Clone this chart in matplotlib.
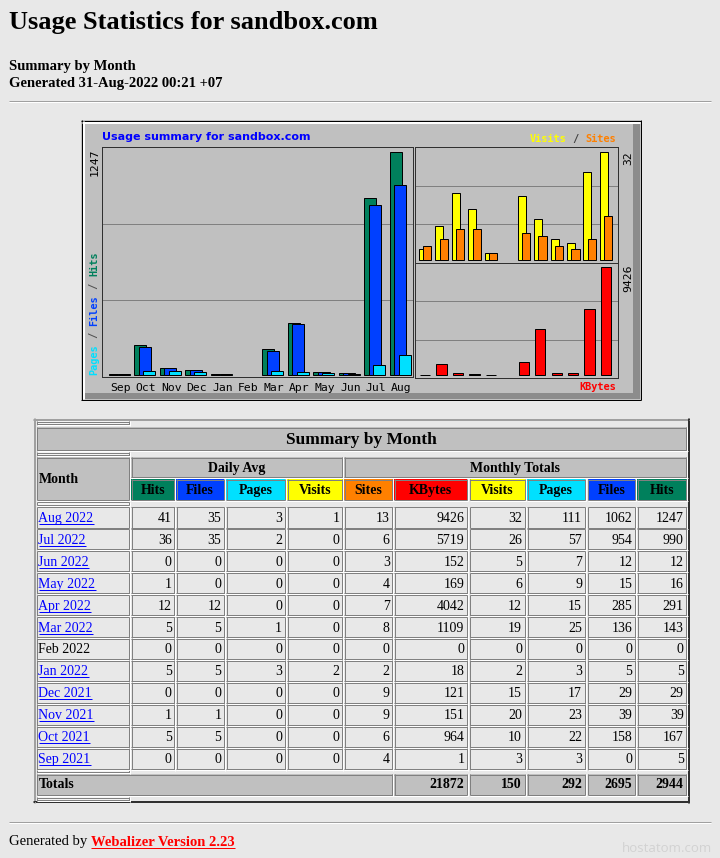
import matplotlib
matplotlib.use('Agg')
import matplotlib.pyplot as plt
from matplotlib.patches import Rectangle
import numpy as np

# ---------------- data ----------------
months = ['Sep', 'Oct', 'Nov', 'Dec', 'Jan', 'Feb', 'Mar', 'Apr', 'May', 'Jun', 'Jul', 'Aug']
month_labels = ['Sep 2021', 'Oct 2021', 'Nov 2021', 'Dec 2021', 'Jan 2022', 'Feb 2022',
                'Mar 2022', 'Apr 2022', 'May 2022', 'Jun 2022', 'Jul 2022', 'Aug 2022']
month_linked = [True, True, True, True, True, False, True, True, True, True, True, True]
hits = [5, 167, 39, 29, 5, 0, 143, 291, 16, 12, 990, 1247]
files = [0, 158, 39, 29, 5, 0, 136, 285, 15, 12, 954, 1062]
pages = [3, 22, 23, 17, 3, 0, 25, 15, 9, 7, 57, 111]
visits = [3, 10, 20, 15, 2, 0, 19, 12, 6, 5, 26, 32]
sites = [4, 6, 9, 9, 2, 0, 8, 7, 4, 3, 6, 13]
kbytes = [1, 964, 151, 121, 18, 0, 1109, 4042, 169, 152, 5719, 9426]
avg_hits = [0, 5, 1, 0, 5, 0, 5, 12, 1, 0, 36, 41]
avg_files = [0, 5, 1, 0, 5, 0, 5, 12, 0, 0, 35, 35]
avg_pages = [0, 0, 0, 0, 3, 0, 1, 0, 0, 0, 2, 3]
avg_visits = [0, 0, 0, 0, 2, 0, 0, 0, 0, 0, 0, 1]

C_HITS = '#00805C'
C_FILES = '#0040FF'
C_PAGES = '#00E0FF'
C_VISITS = '#FFFF00'
C_SITES = '#FF8000'
C_KB = '#FF0000'
BG = '#E8E8E8'
GRAY = '#C0C0C0'

SERIF = 'Liberation Serif'
MONO = 'DejaVu Sans Mono'
SANS = 'DejaVu Sans'

W, H = 720, 858
fig = plt.figure(figsize=(W / 100, H / 100), dpi=100, facecolor=BG)
bg = fig.add_axes([0, 0, 1, 1])
bg.set_xlim(0, W)
bg.set_ylim(H, 0)
bg.axis('off')
PX = 0.72


def hline(x0, x1, y, c, lw=1, z=2):
    bg.plot([x0, x1], [y, y], color=c, lw=lw * PX, solid_capstyle='butt', zorder=z)


def vline(x, y0, y1, c, lw=1, z=2):
    bg.plot([x, x], [y0, y1], color=c, lw=lw * PX, solid_capstyle='butt', zorder=z)


def rect(x0, y0, x1, y1, fc, z=1):
    bg.add_patch(Rectangle((x0, y0), x1 - x0, y1 - y0, fc=fc, ec='none', zorder=z))


def cell(x0, y0, x1, y1, fc, tl='#808080', br='#808080'):
    rect(x0, y0, x1, y1, fc)
    hline(x0, x1, y0 + 0.5, tl)
    vline(x0 + 0.5, y0, y1, tl)
    hline(x0, x1, y1 - 0.5, br)
    vline(x1 - 0.5, y0, y1, br)
    hline(x0, x1 + 1, y1 + 0.5, '#FFFFFF')
    vline(x1 + 0.5, y0, y1 + 1, '#FFFFFF')


# ---------------- page header ----------------
bg.text(9, 28.5, 'Usage Statistics for sandbox.com', family=SERIF, weight='bold',
        size=19, va='baseline', ha='left')
bg.text(9, 70, 'Summary by Month', family=SERIF, weight='bold', size=10.5, va='baseline')
bg.text(9, 87.5, 'Generated 31-Aug-2022 00:21 +07', family=SERIF, weight='bold', size=10.5,
        va='baseline')
hline(9, 711, 100.5, '#A0A0A0')
hline(9, 711, 101.5, '#FFFFFF')

# ---------------- chart frame ----------------
rect(81, 120, 641, 400, GRAY)
hline(81, 641, 120.5, '#000000')
vline(81.5, 120, 400, '#000000')
hline(81, 641, 399.5, '#000000')
vline(640.5, 120, 400, '#000000')
for k in range(2):
    hline(82, 640, 121.5 + k, '#FFFFFF')
    vline(82.5 + k, 121, 399, '#FFFFFF')
rect(633, 121, 640, 399, '#8C8C8C')
rect(82, 392.5, 640, 399, '#8C8C8C')


def chart_ax(x0, y0, x1, y1):
    a = fig.add_axes([x0 / W, 1 - y1 / H, (x1 - x0) / W, (y1 - y0) / H])
    a.set_facecolor(GRAY)
    for s in a.spines.values():
        s.set_color('#303030')
        s.set_linewidth(PX)
    a.set_yticks([])
    a.set_xticks([])
    for f in (1 / 3, 2 / 3):
        a.plot([0, 1], [f, f], transform=a.transAxes, color='#808080', lw=PX, zorder=0.5)
    return a


def draw_bars(a, left, vals, width, color):
    v = np.asarray(vals, dtype=float)
    m = v > 0
    a.bar(left[m], v[m], width=width, align='edge', color=color, edgecolor='black',
          linewidth=PX, zorder=2)


idx = np.arange(12)

# main chart: hits / files / pages
ax = chart_ax(102, 147, 413, 377)
upx = max(hits) / (375 - 152.3)
ax.set_ylim(-(377 - 375) * upx, max(hits) + (152.3 - 147) * upx)
ax.set_xlim(-0.262, -0.262 + 311 / 25.57)
bw = 12 / 25.57
draw_bars(ax, idx + 0.0, hits, bw, C_HITS)
draw_bars(ax, idx + 0.176, files, bw, C_FILES)
draw_bars(ax, idx + 0.352, pages, bw, C_PAGES)
ax.set_xticks(idx + 0.45)
ax.set_xticklabels(months, family=MONO, size=8.2)
ax.tick_params(axis='x', length=0, pad=4.2)

# visits / sites
ax2 = chart_ax(415, 147, 618, 263)
upx2 = max(visits) / (259.5 - 152.3)
ax2.set_ylim(-(263 - 259.5) * upx2, max(visits) + (152.3 - 147) * upx2)
ax2.set_xlim(-0.243, -0.243 + 203 / 16.45)
draw_bars(ax2, idx + 0.0, visits, 8 / 16.45, C_VISITS)
draw_bars(ax2, idx + 0.261, sites, 8.2 / 16.45, C_SITES)

# kbytes
ax3 = chart_ax(415, 263, 618, 378)
upx3 = max(kbytes) / (375 - 267)
ax3.set_ylim(-(378 - 375) * upx3, max(kbytes) + (267 - 263) * upx3)
ax3.set_xlim(-0.243, -0.243 + 203 / 16.45)
draw_bars(ax3, idx + 0.06, kbytes, 10.3 / 16.45, C_KB)

# chart texts
bg.text(101.5, 137.5, 'Usage summary for sandbox.com', family=SANS, weight='bold', size=8,
        color='#0000FF', va='center', ha='left', zorder=5)
bg.text(94.5, 149, str(max(hits)), family=MONO, size=8.2, rotation=90, ha='center',
        va='top', zorder=5)
bg.text(628.5, 151, str(max(visits)), family=MONO, size=8.2, rotation=90, ha='center',
        va='top', zorder=5)
bg.text(628.5, 265, str(max(kbytes)), family=MONO, size=8.2, rotation=90, ha='center',
        va='top', zorder=5)

cw = 0.602 * 7.4 * 100 / 72
segs = [('Pages', C_PAGES), (' / ', '#505050'), ('Files', C_FILES), (' / ', '#505050'),
        ('Hits', C_HITS)]
pos = 375.0
for s, c in segs:
    bg.text(94.5, pos, s, family=MONO, size=7.4, weight='bold', rotation=90, ha='center',
            va='bottom', color=c, zorder=5)
    pos -= len(s) * cw

segs2 = [('Visits', C_VISITS), (' / ', '#404040'), ('Sites', C_SITES)]
xs = 616 - sum(len(s) for s, _ in segs2) * cw
for s, c in segs2:
    bg.text(xs, 139, s, family=MONO, size=7.4, weight='bold', ha='left', va='center',
            color=c, zorder=5)
    xs += len(s) * cw
bg.text(616, 387, 'KBytes', family=MONO, size=7.4, weight='bold', ha='right', va='center',
        color=C_KB, zorder=5)

# ---------------- table ----------------
# outer border
for k in range(2):
    hline(33, 688.5, 418.5 + k, '#A0A0A0')
    vline(33.5 + k, 418, 802.5, '#A0A0A0')
    hline(33, 689, 802 - k, '#303030')
    vline(688.5 - k, 418, 803, '#303030')

cols = [(36.7, 129.3), (131, 174.7), (176, 224.3), (226.3, 285), (287, 342.7),
        (344.3, 392.7), (394.3, 467.3), (469.7, 525), (527, 585), (587.7, 635.3),
        (637.3, 686.7)]

# thin empty rows
for y0, y1 in [(421, 424.5), (452.3, 455.8), (501.5, 505), (769.3, 772.8), (797.3, 800.5)]:
    cell(cols[0][0], y0, cols[0][1], y1, '#F4F4F4')

# title row
cell(36.7, 427.3, 686.7, 450.7, GRAY)
bg.text((36.7 + 686.7) / 2, 444.5, 'Summary by Month', family=SERIF, weight='bold', size=12.5,
        ha='center', va='baseline', zorder=5)

# header rows
cell(36.7, 457.3, 129.3, 500, GRAY)
bg.text(38.5, 483, 'Month', family=SERIF, weight='bold', size=10, ha='left', va='baseline',
        zorder=5)
cell(131, 457.3, 342.7, 477.7, GRAY)
bg.text((131 + 342.7) / 2, 472.3, 'Daily Avg', family=SERIF, weight='bold', size=10,
        ha='center', va='baseline', zorder=5)
cell(344.3, 457.3, 686.7, 477.7, GRAY)
bg.text((344.3 + 686.7) / 2, 472.3, 'Monthly Totals', family=SERIF, weight='bold', size=10,
        ha='center', va='baseline', zorder=5)

hdr = [('Hits', C_HITS), ('Files', C_FILES), ('Pages', C_PAGES), ('Visits', C_VISITS),
       ('Sites', C_SITES), ('KBytes', C_KB), ('Visits', C_VISITS), ('Pages', C_PAGES),
       ('Files', C_FILES), ('Hits', C_HITS)]
for (x0, x1), (name, c) in zip(cols[1:], hdr):
    cell(x0, 479.3, x1, 500, c)
    bg.text((x0 + x1) / 2, 494, name, family=SERIF, weight='bold', size=10, ha='center',
            va='baseline', zorder=5)

renderer = fig.canvas.get_renderer()
links = []
for r in range(12):
    i = 11 - r
    top = 506.7 + 21.96 * r
    bot = top + 21.3
    base = top + 15
    vals = [avg_hits[i], avg_files[i], avg_pages[i], avg_visits[i], sites[i], kbytes[i],
            visits[i], pages[i], files[i], hits[i]]
    cell(cols[0][0], top, cols[0][1], bot, BG)
    t = bg.text(38.5, base, month_labels[i], family=SERIF, size=10, ha='left', va='baseline',
                color='#0000FF' if month_linked[i] else '#000000', zorder=5)
    if month_linked[i]:
        links.append((t, base + 2, '#0000FF'))
    for (x0, x1), v in zip(cols[1:], vals):
        cell(x0, top, x1, bot, BG)
        bg.text(x1 - 3, base, str(v), family=SERIF, size=10, ha='right', va='baseline',
                zorder=5)

# totals row
cell(cols[0][0], 774.3, cols[5][1], 795, GRAY)
bg.text(38.5, 788.5, 'Totals', family=SERIF, weight='bold', size=10, ha='left', va='baseline',
        zorder=5)
tot = [sum(kbytes), sum(visits), sum(pages), sum(files), sum(hits)]
for (x0, x1), v in zip(cols[6:], tot):
    cell(x0, 774.3, x1, 795, GRAY)
    bg.text(x1 - 3, 788.5, str(v), family=SERIF, weight='bold', size=10, ha='right',
            va='baseline', zorder=5)

# ---------------- footer ----------------
hline(9, 711, 821.5, '#A0A0A0')
hline(9, 711, 822.5, '#FFFFFF')
t1 = bg.text(9, 845.5, 'Generated by ', family=SERIF, size=10.5, ha='left', va='baseline')
bb = t1.get_window_extent(renderer)
t2 = bg.text(bb.x1, 845.5, 'Webalizer Version 2.23', family=SERIF, weight='bold', size=10.5,
             ha='left', va='baseline', color='#FF0000')
links.append((t2, 848, '#FF0000'))
bg.text(712, 852, 'hostatom.com', family='Open Sans', size=9.5, ha='right', va='baseline',
        color='#D2D2D2')

for t, y, c in links:
    b = t.get_window_extent(renderer)
    hline(b.x0, b.x1, y, c, z=6)

fig.savefig('out.png', dpi=100, facecolor=BG)
